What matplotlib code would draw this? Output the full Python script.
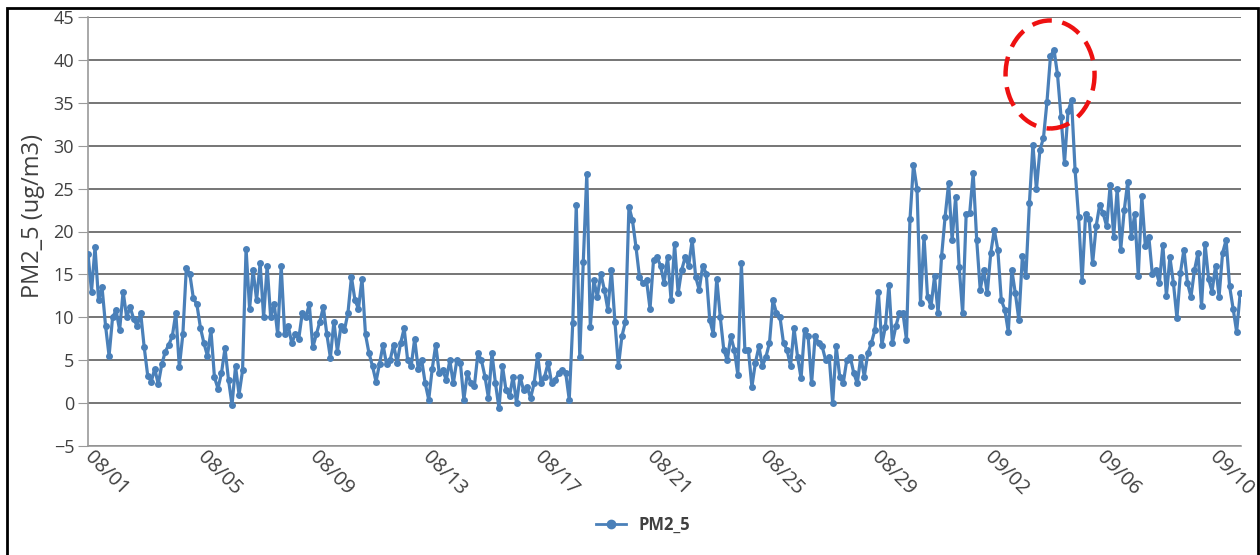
import matplotlib
matplotlib.use('Agg')
import matplotlib.pyplot as plt
import matplotlib.dates as mdates
import matplotlib.transforms as mtransforms
from matplotlib.patches import Ellipse, Rectangle
from matplotlib.lines import Line2D
import numpy as np

plt.rcParams['font.family'] = ['Open Sans', 'DejaVu Sans']

# 3-hourly PM2.5 readings, 08/01 00:00 onward (one row per day)
pm25 = [
    17.4, 13.0, 18.2, 12.0, 13.5, 9.0, 5.5, 10.0,
    10.8, 8.5, 13.0, 10.0, 11.2, 9.8, 9.0, 10.5,
    6.5, 3.2, 2.5, 4.0, 2.2, 4.5, 6.0, 6.8,
    7.8, 10.5, 4.2, 8.0, 15.8, 15.0, 12.2, 11.5,
    8.8, 7.0, 5.5, 8.5, 3.0, 1.7, 3.5, 6.4,
    2.7, -0.2, 4.3, 1.0, 3.8, 18.0, 11.0, 15.5,
    12.0, 16.3, 10.0, 16.0, 10.0, 11.6, 8.0, 16.0,
    8.0, 9.0, 7.0, 8.0, 7.5, 10.5, 10.0, 11.5,
    6.5, 8.0, 9.5, 11.2, 8.0, 5.3, 9.5, 6.0,
    9.0, 8.5, 10.5, 14.7, 12.0, 11.0, 14.5, 8.0,
    5.8, 4.3, 2.5, 4.6, 6.8, 4.5, 5.0, 6.8,
    4.7, 7.0, 8.7, 5.0, 4.3, 7.5, 4.0, 5.0,
    2.3, 0.4, 4.0, 6.8, 3.5, 3.8, 2.7, 5.0,
    2.3, 5.0, 4.7, 0.4, 3.5, 2.3, 2.0, 5.8,
    5.0, 3.1, 0.6, 5.8, 2.3, -0.6, 4.3, 1.5,
    0.8, 3.1, 0.0, 3.1, 1.5, 1.9, 0.6, 2.3,
    5.6, 2.3, 3.1, 4.7, 2.3, 2.7, 3.5, 3.9,
    3.5, 0.4, 9.3, 23.1, 5.4, 16.5, 26.7, 8.9,
    14.3, 12.4, 15.1, 13.2, 10.9, 15.5, 9.5, 4.3,
    7.8, 9.5, 22.9, 21.3, 18.2, 14.7, 14.0, 14.3,
    11.0, 16.7, 17.0, 16.0, 14.0, 17.0, 12.0, 18.5,
    12.8, 15.5, 17.0, 16.0, 19.0, 14.7, 13.2, 16.0,
    15.1, 9.7, 8.1, 14.5, 10.0, 6.2, 5.0, 7.8,
    6.2, 3.3, 16.3, 6.2, 6.2, 1.9, 4.7, 6.6,
    4.3, 5.4, 7.0, 12.0, 10.5, 10.0, 7.0, 6.2,
    4.3, 8.7, 5.4, 2.9, 8.5, 7.8, 2.3, 7.8,
    7.0, 6.6, 5.0, 5.4, 0.0, 6.6, 3.1, 2.3,
    5.0, 5.4, 3.5, 2.3, 5.4, 3.1, 5.8, 7.0,
    8.5, 13.0, 6.8, 8.9, 13.8, 7.0, 9.0, 10.5,
    10.5, 7.4, 21.4, 27.8, 25.0, 11.7, 19.4, 12.4,
    11.3, 14.8, 10.5, 17.1, 21.7, 25.6, 19.0, 24.0,
    15.9, 10.5, 22.0, 22.1, 26.8, 19.0, 13.2, 15.5,
    12.8, 17.5, 20.2, 17.9, 12.0, 10.9, 8.3, 15.5,
    12.8, 9.7, 17.1, 14.8, 23.3, 30.1, 24.9, 29.5,
    30.9, 35.1, 40.4, 41.2, 38.3, 33.4, 28.0, 34.0,
    35.3, 27.2, 21.7, 14.2, 22.0, 21.5, 16.3, 20.6,
    23.1, 22.1, 20.6, 25.4, 19.4, 25.0, 17.9, 22.5,
    25.8, 19.4, 22.0, 14.8, 24.1, 18.3, 19.4, 15.0,
    15.5, 14.0, 18.4, 12.5, 17.0, 14.0, 9.9, 15.2,
    17.9, 14.0, 12.4, 15.5, 17.5, 11.3, 18.6, 14.5,
    13.0, 16.0, 12.4, 17.5, 19.0, 13.6, 11.0, 8.3,
    12.8,
]
start = np.datetime64('2020-08-01T00:00')
times = start + np.arange(len(pm25)) * np.timedelta64(3, 'h')

tick_labels = ['08/01', '08/05', '08/09', '08/13', '08/17', '08/21',
               '08/25', '08/29', '09/02', '09/06', '09/10']
tick_dates = ['2020-08-01', '2020-08-05', '2020-08-09', '2020-08-13', '2020-08-17',
              '2020-08-21', '2020-08-25', '2020-08-29', '2020-09-02', '2020-09-06',
              '2020-09-10']

line_color = '#4a80b9'
text_color = '#404040'

fig = plt.figure(figsize=(12.6, 5.55), dpi=100)
ax = fig.add_axes([88 / 1260, 1 - 446 / 555, (1241 - 88) / 1260, (446 - 17) / 555])

ax.plot(times, pm25, color=line_color, linewidth=2.3, marker='o', markersize=5,
        markeredgewidth=0, zorder=3)

ax.set_ylim(-5, 45)
ax.set_yticks(np.arange(-5, 46, 5))
x0 = mdates.date2num(start)
ax.set_xlim(x0, x0 + 41.03)
ax.set_xticks([mdates.date2num(np.datetime64(d)) for d in tick_dates])
ax.set_xticklabels(tick_labels, rotation=-45, ha='left', va='center',
                   rotation_mode='anchor', fontsize=14.5, color=text_color)
shift = mtransforms.ScaledTranslation(7 / 100, 3 / 100, fig.dpi_scale_trans)
for lbl in ax.get_xticklabels():
    lbl.set_transform(lbl.get_transform() + shift)

ax.grid(axis='y', color='#505050', linewidth=1.1)
ax.set_axisbelow(True)
for side in ['top', 'right']:
    ax.spines[side].set_visible(False)
for side in ['left', 'bottom']:
    ax.spines[side].set_color('#9a9a9a')
    ax.spines[side].set_linewidth(1.2)

ax.tick_params(axis='y', length=7, color='#9a9a9a', labelsize=13, labelcolor=text_color, pad=3)
ax.tick_params(axis='x', length=0, pad=6)
ax.set_ylabel('PM2_5 (ug/m3)', fontsize=17, color=text_color)
ax.yaxis.set_label_coords(-0.037, 0.535)

# red dashed highlight around the peak
cx = x0 + (1050 - 88) / 28.1
ax.add_patch(Ellipse((cx, 38.3), width=89 / 28.1, height=108 / 8.58, fill=False,
                     edgecolor='#ee1111', linewidth=3.2, linestyle=(0, (4.5, 2.4)),
                     zorder=5, clip_on=False))

handle = Line2D([], [], color=line_color, linewidth=2, marker='o', markersize=6)
leg = fig.legend([handle], ['PM2_5'], loc='center', bbox_to_anchor=(643 / 1260, 1 - 525 / 555),
                 frameon=False, handlelength=1.8, prop={'size': 12, 'weight': 'bold'})
for t in leg.get_texts():
    t.set_color(text_color)

# outer frame
fig.patches.append(Rectangle((7 / 1260, -0.05), 1251 / 1260, 1.05 - 8 / 555,
                             transform=fig.transFigure, fill=False,
                             edgecolor='black', linewidth=2))

fig.savefig('out.png', dpi=100)
